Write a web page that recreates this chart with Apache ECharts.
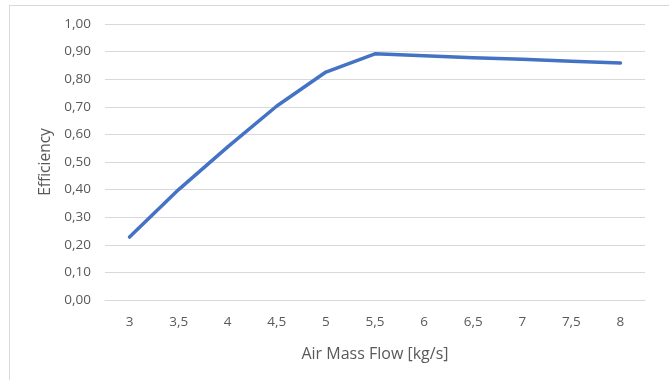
<!DOCTYPE html>
<html>
<head>
<meta charset="utf-8">
<script src="https://cdn.jsdelivr.net/npm/echarts@6/dist/echarts.min.js"></script>
<style>
  body { margin: 0; background: #fff; }
  .frame { position: absolute; left: 9px; top: 5px; width: 670px; height: 390px; border: 1px solid #d9d9d9; box-sizing: border-box; }
  #chart { position: absolute; left: 0; top: 0; width: 669px; height: 380px; }
</style>
</head>
<body>
<div class="frame"></div>
<div id="chart"></div>
<script>
const airMassFlow = ['3', '3,5', '4', '4,5', '5', '5,5', '6', '6,5', '7', '7,5', '8']
const efficiency = [0.228, 0.400, 0.555, 0.703, 0.826, 0.892, 0.885, 0.878, 0.872, 0.865, 0.859]

const chart = echarts.init(document.getElementById('chart'))
const textColor = '#595959'
const font = '"Open Sans", sans-serif'

chart.setOption({
  animation: false,
  grid: { left: 105, right: 24, top: 24, bottom: 80 },
  xAxis: {
    type: 'category',
    data: airMassFlow,
    boundaryGap: true,
    name: 'Air Mass Flow [kg/s]',
    nameLocation: 'middle',
    nameGap: 46,
    nameTextStyle: { color: textColor, fontSize: 16, fontFamily: font },
    axisLine: { lineStyle: { color: '#d9d9d9' } },
    axisTick: { show: false },
    axisLabel: { color: textColor, fontSize: 13.5, fontFamily: font, margin: 15 },
  },
  yAxis: {
    type: 'value',
    min: 0,
    max: 1,
    interval: 0.1,
    name: 'Efficiency',
    nameLocation: 'middle',
    nameGap: 51,
    nameTextStyle: { color: textColor, fontSize: 15.5, fontFamily: font },
    axisLine: { show: false },
    axisTick: { show: false },
    splitLine: { lineStyle: { color: '#d9d9d9', width: 1 } },
    axisLabel: {
      color: textColor,
      fontSize: 13.5,
      fontFamily: font,
      margin: 14,
      formatter: (v) => v.toFixed(2).replace('.', ','),
    },
  },
  series: [
    {
      type: 'line',
      data: efficiency,
      showSymbol: false,
      lineStyle: { width: 3.5, color: '#4472c4', cap: 'round', join: 'round' },
    },
  ],
})
</script>
</body>
</html>
